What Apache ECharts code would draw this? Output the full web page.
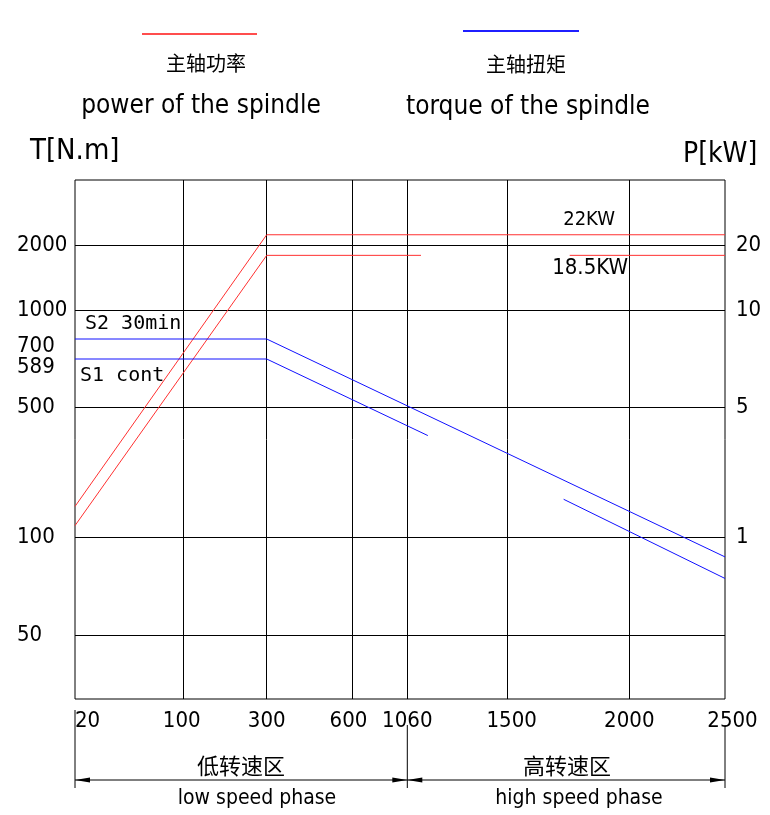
<!DOCTYPE html>
<html><head><meta charset="utf-8">
<script src="https://cdn.jsdelivr.net/npm/echarts@6/dist/echarts.min.js"></script>
<style>html,body{margin:0;padding:0;background:#fff}#c{width:770px;height:815px}</style>
</head><body><div id="c"></div><script>
// ---------------- data ----------------
const speedTicks = [20, 100, 300, 600, 1060, 1500, 2000, 2500];      // rpm, x-axis labels
const torqueGridTicks = [50, 100, 500, 1000, 2000];                   // N.m grid lines
const torqueLabelTicks = [50, 100, 500, 589, 700, 1000, 2000];        // N.m left labels
const powerTicks = [1, 5, 10, 20];                                     // kW right labels
const powerToTorque = 100;                                             // P label k sits on T line k*100

const s2Speed  = [20, 300, 2500];
const s2Torque = [700, 700, 90];
const s1Speed  = [20, 300, 1150, null, 1730, 2500];
const s1Torque = [589, 589, 413, null, 217, 79];
const p22Speed = [20, 300, 2500];
const p22Power = [1.95, 22, 22];
const p185Speed = [20, 300, 1120, null, 1755, 2500];
const p185Power = [1.36, 18.5, 18.5, null, 18.5, 18.5];

// ---------------- the drawing's non-uniform axis spacing ----------------
const X_SCALE = { vals: [20, 100, 300, 600, 1060, 1500, 2000, 2500], pos: [0, 108.7, 191.7, 277.5, 332.3, 432.7, 554.3, 650] };
const Y_SCALE = { vals: [20, 50, 100, 500, 589, 700, 1000, 2000, 3200], pos: [0, 63.7, 161.7, 291.7, 340, 360, 389, 453.3, 519] };
function interp(v, s) {
  const a = s.vals, p = s.pos;
  let i = 0;
  while (i < a.length - 2 && v > a[i + 1]) i++;
  return p[i] + (v - a[i]) / (a[i + 1] - a[i]) * (p[i + 1] - p[i]);
}
const toX = v => interp(v, X_SCALE);
const toY = v => interp(v, Y_SCALE);
function nearest(pos, list, fn) {
  let best = list[0], d = 1e9;
  list.forEach(t => { const dd = Math.abs(fn(t) - pos); if (dd < d) { d = dd; best = t; } });
  return best;
}
function pts(xs, ys, f) {
  return xs.map((x, i) => x === null ? ['-', '-'] : [toX(x), toY(f(ys[i]))]);
}

const FONT = "'DejaVu Sans Condensed', 'Liberation Sans Narrow', sans-serif";
const MONO = "'DejaVu Sans Mono', monospace";
const CJK = "'Noto Sans CJK SC', sans-serif";
const RED = '#ff3030', BLUE = '#1010ff';

const xShift = { 20: 'a', 100: 'l2', 600: 'l8', 1500: 'r8', 2500: 'r15' };
const yShift = { 700: 'd', 589: 'd2' };

const chart = echarts.init(document.getElementById('c'), null, { renderer: 'canvas' });

function line(name, data, color, yIdx) {
  return { name, type: 'line', data, yAxisIndex: yIdx, showSymbol: false, symbol: 'none',
    lineStyle: { color, width: 1 }, itemStyle: { color }, connectNulls: false, silent: true, animation: false };
}

chart.setOption({
  animation: false,
  grid: { left: 75, right: 45, top: 180, bottom: 116, show: true, borderColor: '#000', borderWidth: 1, containLabel: false },
  xAxis: {
    type: 'value', min: 0, max: 650,
    axisLine: { show: false },
    axisTick: { show: false, customValues: speedTicks.slice(1, -1).map(toX) },
    splitLine: { show: true, lineStyle: { color: '#000', width: 1 } },
    axisLabel: {
      customValues: speedTicks.map(toX), margin: 22, verticalAlign: 'middle',
      fontFamily: FONT, fontSize: 22, color: '#000',
      formatter: v => { const t = nearest(v, speedTicks, toX); return xShift[t] ? '{' + xShift[t] + '|' + t + '}' : String(t); },
      rich: {
        a: { padding: [0, 0, 0, 25] }, l2: { padding: [0, 4, 0, 0] }, l8: { padding: [0, 8, 0, 0] },
        r8: { padding: [0, 0, 0, 8] }, r15: { padding: [0, 0, 0, 15] }
      }
    }
  },
  yAxis: [{
    type: 'value', min: 0, max: 519, position: 'left',
    axisLine: { show: false },
    axisTick: { show: false, customValues: torqueGridTicks.map(toY) },
    splitLine: { show: true, lineStyle: { color: '#000', width: 1 } },
    axisLabel: {
      customValues: torqueLabelTicks.map(toY), margin: 58, align: 'left', verticalAlign: 'middle',
      fontFamily: FONT, fontSize: 22, color: '#000',
      formatter: v => { const t = nearest(v, torqueLabelTicks, toY); return yShift[t] ? '{' + yShift[t] + '|' + t + '}' : String(t); },
      rich: { d: { padding: [14, 0, 0, 0] }, d2: { padding: [16, 0, 0, 0] } }
    }
  }, {
    type: 'value', min: 0, max: 519, position: 'right',
    axisLine: { show: false },
    axisTick: { show: false },
    splitLine: { show: false },
    axisLabel: {
      customValues: powerTicks.map(p => toY(p * powerToTorque)), margin: 11, align: 'left', verticalAlign: 'middle',
      fontFamily: FONT, fontSize: 22, color: '#000',
      formatter: v => String(nearest(v, powerTicks, p => toY(p * powerToTorque)))
    }
  }],
  series: [
    line('主轴功率 22KW', pts(p22Speed, p22Power, p => p * powerToTorque), RED, 1),
    line('主轴功率 18.5KW', pts(p185Speed, p185Power, p => p * powerToTorque), RED, 1),
    line('主轴扭矩 S2 30min', pts(s2Speed, s2Torque, t => t), BLUE, 0),
    line('主轴扭矩 S1 cont', pts(s1Speed, s1Torque, t => t), BLUE, 0)
  ]
});

// ---------------- annotations ----------------
const px = v => chart.convertToPixel({ xAxisIndex: 0 }, toX(v));
const x0 = px(speedTicks[0]), xm = px(1060), x1 = px(speedTicks[speedTicks.length - 1]);
const dimY = 780;
function txt(text, x, y, size, family, align) {
  return { type: 'text', silent: true, style: { text, x, y, fontSize: size, fontFamily: family, fill: '#000', align: align || 'center', verticalAlign: 'middle' } };
}
function seg(xa, ya, xb, yb, color, w) {
  return { type: 'line', silent: true, shape: { x1: xa, y1: ya, x2: xb, y2: yb }, style: { stroke: color || '#000', lineWidth: w || 1 } };
}
function arrow(tipX, dir) {
  return { type: 'polygon', silent: true, shape: { points: [[tipX, dimY], [tipX + dir * 15, dimY - 2.5], [tipX + dir * 15, dimY + 2.5]] }, style: { fill: '#000' } };
}
chart.setOption({
  graphic: [
    // legend
    seg(142, 34, 257, 34, '#ff4d4d', 2),
    txt('主轴功率', 206, 63, 20, CJK),
    txt('power of the spindle', 201, 106, 26, FONT),
    seg(463, 31, 579, 31, '#1f1fff', 2),
    txt('主轴扭矩', 526, 64, 20, CJK),
    txt('torque of the spindle', 528, 107, 26, FONT),
    // axis titles
    txt('T[N.m]', 30, 151, 29, FONT, 'left'),
    txt('P[kW]', 683, 155, 28, FONT, 'left'),
    // curve labels
    txt('S2 30min', 85, 324, 20, MONO, 'left'),
    txt('S1 cont', 80, 376, 20, MONO, 'left'),
    txt('22KW', 615, 220, 20, FONT, 'right'),
    txt('18.5KW', 628, 268, 22, FONT, 'right'),
    // speed-range dimension
    seg(x0, 710, x0, 788), seg(xm, 725, xm, 788), seg(x1, 725, x1, 788),
    seg(x0, dimY, x1, dimY),
    arrow(x0, 1), arrow(xm, -1), arrow(xm, 1), arrow(x1, -1),
    txt('低转速区', 241, 766, 22, CJK),
    txt('low speed phase', 257, 799, 21, FONT),
    txt('高转速区', 567, 766, 22, CJK),
    txt('high speed phase', 579, 799, 21, FONT)
  ]
});
</script></body></html>
